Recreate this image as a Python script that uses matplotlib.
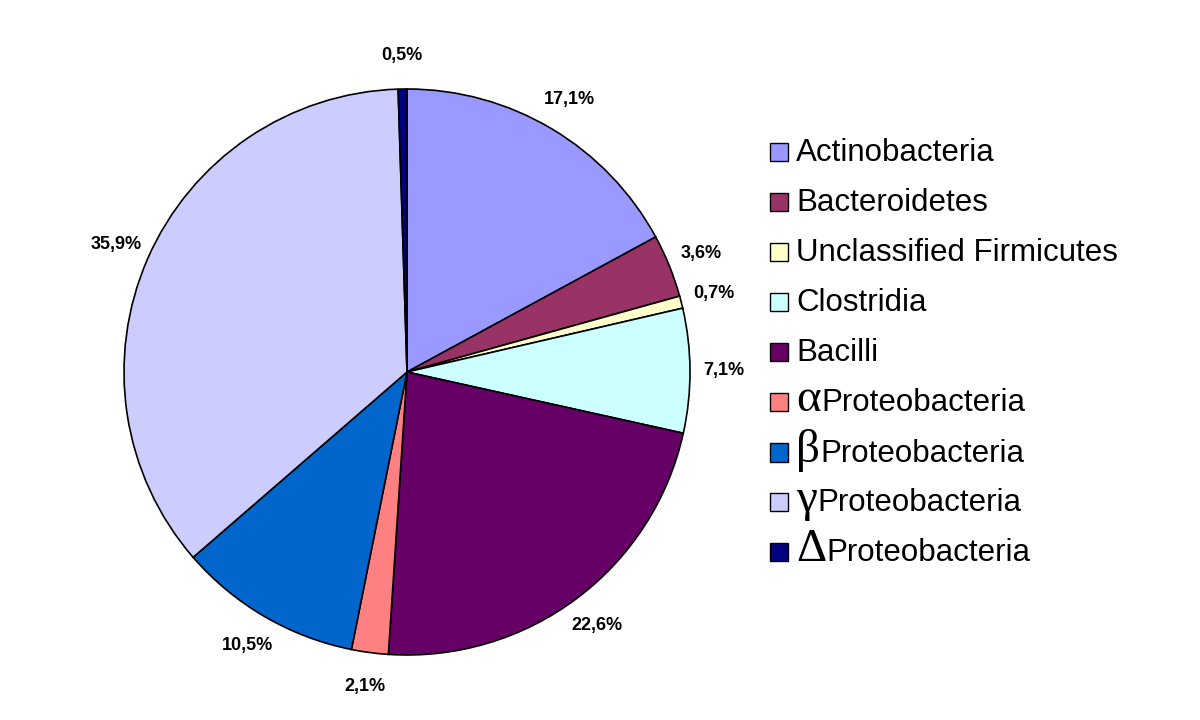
import matplotlib
matplotlib.use("Agg")
import matplotlib.pyplot as plt
from matplotlib.offsetbox import AnchoredOffsetbox, DrawingArea, HPacker, TextArea
from matplotlib.patches import Rectangle

classes = ['Actinobacteria', 'Bacteroidetes', 'Unclassified Firmicutes', 'Clostridia',
           'Bacilli', 'Proteobacteria', 'Proteobacteria', 'Proteobacteria', 'Proteobacteria']
greek = ['', '', '', '', '', 'α', 'β', 'γ', 'Δ']
shares = [17.1, 3.6, 0.7, 7.1, 22.6, 2.1, 10.5, 35.9, 0.5]
colors = ['#9999FF', '#993366', '#FFFFCC', '#CCFFFF', '#660066',
          '#FF8080', '#0066CC', '#CCCCFF', '#000080']

FONT = 'Liberation Sans'
LEG_SIZE = 22.5
GREEK_SIZE = 34

pct_labels = iter([f"{v:.1f}%".replace('.', ',') for v in shares])

fig = plt.figure(figsize=(12, 7.2), dpi=100)
ax = fig.add_axes([124 / 1200, 65 / 720, 566 / 1200, 566 / 720])
wedges, texts, autotexts = ax.pie(
    shares, colors=colors, startangle=90, counterclock=False,
    autopct=lambda p: next(pct_labels), pctdistance=1.12,
    wedgeprops=dict(edgecolor='black', linewidth=1.2),
    textprops=dict(fontsize=13, fontweight='bold', family=FONT))
ax.set_xlim(-1, 1)
ax.set_ylim(-1, 1)
ax.set_aspect('equal')

# legend built row by row so the greek letters can be larger and serif
for i, (name, g, c) in enumerate(zip(classes, greek, colors)):
    da = DrawingArea(19, 13, 0, 0)
    da.add_artist(Rectangle((0, 0), 13, 13, facecolor=c, edgecolor='black', linewidth=1))
    ga = TextArea(g, textprops=dict(fontsize=GREEK_SIZE, family='Liberation Serif'))
    ta = TextArea(name, textprops=dict(fontsize=LEG_SIZE, family=FONT))
    row = HPacker(children=[da, ga, ta], align='baseline', pad=0, sep=0)
    box = AnchoredOffsetbox(loc='center left', child=row, pad=0, borderpad=0, frameon=False,
                            bbox_to_anchor=(770 / 1200, 1 - (150 + 50 * i) / 720),
                            bbox_transform=fig.transFigure)
    fig.add_artist(box)

plt.savefig('out.png', dpi=100)
